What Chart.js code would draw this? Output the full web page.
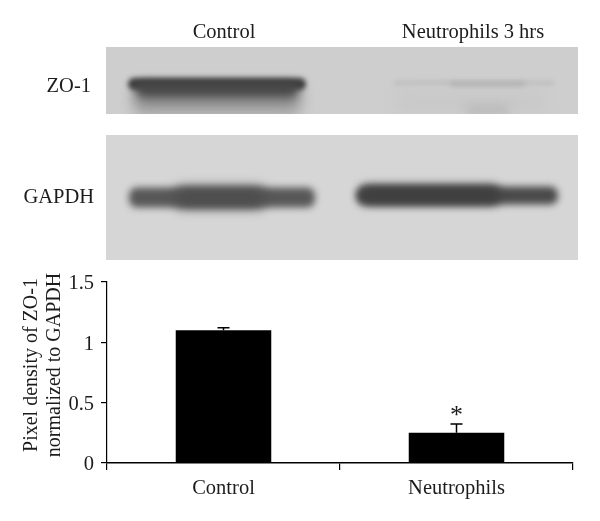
<!DOCTYPE html>
<html>
<head>
<meta charset="utf-8">
<style>
  html, body { margin: 0; padding: 0; background: #fff; }
  #chart-box { width: 600px; height: 521px; }
</style>
<script src="https://cdn.jsdelivr.net/npm/chart.js@4"></script>
</head>
<body>
<div id="chart-box"><canvas id="density-chart"></canvas></div>
<script>
const categories = ['Control', 'Neutrophils'];
const densityValues = [1.1, 0.25];
const errorValues = [0.02, 0.073];
const significance = ['', '*'];
const yTicks = [0, 0.5, 1, 1.5];

const FONT = '"Liberation Serif", serif';
const INK = '#1c1c1c';

// Western blot panels above the bar chart (page pixels), drawn as blurred bands
const blotPanels = [
  { x: 106, y: 47, w: 472, h: 67, color: '#cecece' },
  { x: 106, y: 135, w: 472, h: 125, color: '#d6d6d6' }
];
const blotBands = [
  // ZO-1, control: dark edge on top, smear below
  { x: 134, y: 86, w: 166, h: 36, color: '#5e5e5e', fadeTo: '#cccccc', blur: 7 },
  { x: 128, y: 78, w: 178, h: 12, color: '#3e3e3e', blur: 2.5 },
  { x: 136, y: 83, w: 162, h: 13, color: '#484848', blur: 4 },
  // ZO-1, neutrophils: faint
  { x: 394, y: 81, w: 160, h: 4, color: '#bdbdbd', blur: 2 },
  { x: 450, y: 82, w: 75, h: 5, color: '#b0b0b0', blur: 2.5 },
  { x: 395, y: 90, w: 150, h: 24, color: '#c9c9c9', blur: 6 },
  { x: 465, y: 104, w: 45, h: 12, color: '#bcbcbc', blur: 4 },
  // GAPDH, control
  { x: 129, y: 187.5, w: 186, h: 20, color: '#585858', blur: 3.5 },
  { x: 175, y: 187, w: 90, h: 21, color: '#4e4e4e', blur: 6 },
  // GAPDH, neutrophils
  { x: 356, y: 186.5, w: 202, h: 18, color: '#4a4a4a', blur: 3.5 },
  { x: 360, y: 185, w: 140, h: 20, color: '#404040', blur: 5 }
];
const blotLabels = [
  { text: 'Control', x: 224, y: 33, align: 'center' },
  { text: 'Neutrophils 3 hrs', x: 473, y: 33, align: 'center' },
  { text: 'ZO-1', x: 91, y: 87, align: 'right' },
  { text: 'GAPDH', x: 94, y: 198, align: 'right' }
];

const blotPlugin = {
  id: 'blot',
  beforeDraw(chart) {
    const ctx = chart.ctx;
    ctx.save();
    blotPanels.forEach(p => {
      ctx.save();
      ctx.filter = 'blur(0.6px)';
      ctx.fillStyle = p.color;
      ctx.fillRect(p.x, p.y, p.w, p.h);
      ctx.restore();
      ctx.save();
      ctx.beginPath();
      ctx.rect(p.x, p.y, p.w, p.h);
      ctx.clip();
      blotBands.filter(b => b.y >= p.y && b.y < p.y + p.h).forEach(b => {
        ctx.filter = `blur(${b.blur}px)`;
        if (b.fadeTo) {
          const grad = ctx.createLinearGradient(0, b.y, 0, b.y + b.h);
          grad.addColorStop(0, b.color);
          grad.addColorStop(1, b.fadeTo);
          ctx.fillStyle = grad;
        } else {
          ctx.fillStyle = b.color;
        }
        ctx.beginPath();
        ctx.roundRect(b.x, b.y, b.w, b.h, Math.min(b.h / 2, 8));
        ctx.fill();
      });
      ctx.restore();
    });
    ctx.filter = 'none';
    ctx.fillStyle = INK;
    ctx.font = '20.5px ' + FONT;
    ctx.textBaseline = 'middle';
    blotLabels.forEach(l => {
      ctx.textAlign = l.align;
      ctx.fillText(l.text, l.x, l.y);
    });
    // y axis title, two lines
    ctx.translate(0, 365);
    ctx.rotate(-Math.PI / 2);
    ctx.textAlign = 'center';
    ctx.font = '20px ' + FONT;
    ctx.fillText('Pixel density of ZO-1', 0, 32);
    ctx.fillText('normalized to GAPDH', 0, 55);
    ctx.restore();
  }
};

// Upward error bars and significance marks
const errorBarPlugin = {
  id: 'errorBars',
  afterDatasetsDraw(chart) {
    const ctx = chart.ctx;
    const yScale = chart.scales.y;
    const bars = chart.getDatasetMeta(0).data;
    ctx.save();
    ctx.strokeStyle = '#000';
    ctx.lineWidth = 1.5;
    bars.forEach((bar, i) => {
      const top = yScale.getPixelForValue(densityValues[i] + errorValues[i]);
      ctx.beginPath();
      ctx.moveTo(bar.x, bar.y);
      ctx.lineTo(bar.x, top);
      ctx.moveTo(bar.x - 6, top);
      ctx.lineTo(bar.x + 6, top);
      ctx.stroke();
      if (significance[i]) {
        ctx.fillStyle = INK;
        ctx.font = '26px ' + FONT;
        ctx.textAlign = 'center';
        ctx.textBaseline = 'middle';
        ctx.fillText(significance[i], bar.x, top - 8);
      }
    });
    ctx.restore();
  }
};

new Chart(document.getElementById('density-chart'), {
  type: 'bar',
  data: {
    labels: categories,
    datasets: [{
      data: densityValues,
      backgroundColor: '#000',
      borderWidth: 0,
      categoryPercentage: 0.41,
      barPercentage: 1
    }]
  },
  plugins: [blotPlugin, errorBarPlugin],
  options: {
    responsive: true,
    maintainAspectRatio: false,
    animation: false,
    layout: { padding: { top: 282, right: 27 } },
    plugins: { legend: { display: false }, tooltip: { enabled: false } },
    scales: {
      x: {
        afterFit: scale => { scale.height = 58; },
        grid: { offset: true, drawOnChartArea: false, color: '#000', tickLength: 7, lineWidth: 1.2 },
        border: { color: '#000', width: 1.5 },
        ticks: { color: INK, font: { family: FONT, size: 20.5 }, padding: 6, maxRotation: 0 }
      },
      y: {
        min: 0,
        max: 1.5,
        afterFit: scale => { scale.width = 107; },
        afterBuildTicks: scale => { scale.ticks = yTicks.map(v => ({ value: v })); },
        grid: { drawOnChartArea: false, color: '#000', tickLength: 6, lineWidth: 1.2 },
        border: { color: '#000', width: 1.2 },
        ticks: { color: INK, font: { family: FONT, size: 20.5 }, padding: 7, labelOffset: 2, callback: v => String(v) }
      }
    }
  }
});
</script>
</body>
</html>
